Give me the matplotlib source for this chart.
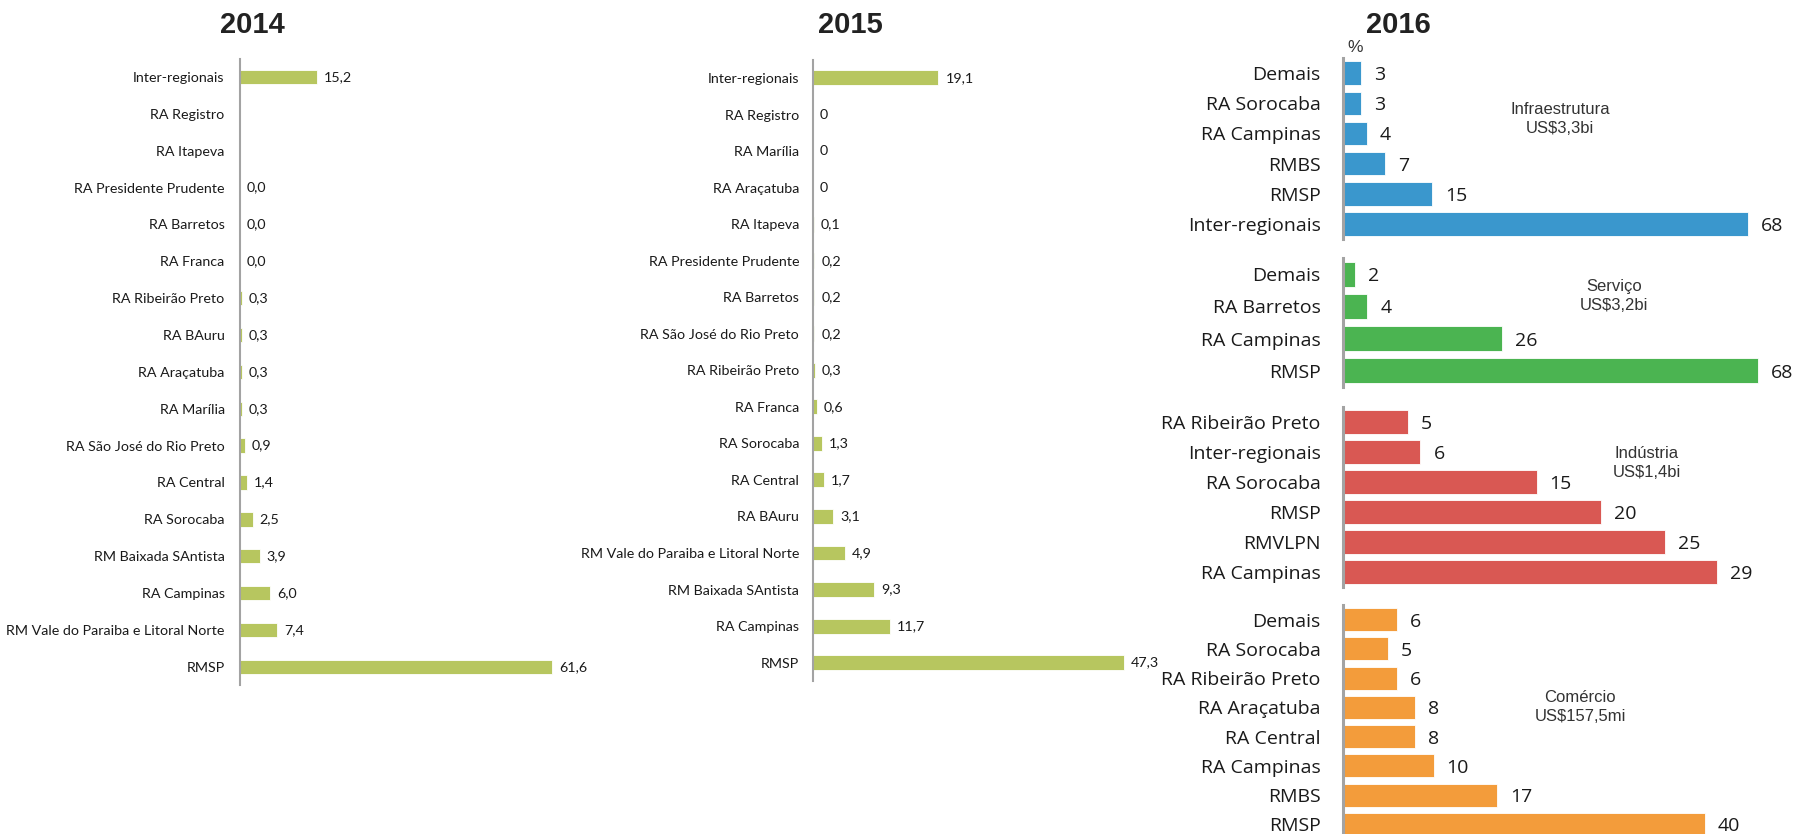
import matplotlib
matplotlib.use('Agg')
import matplotlib.pyplot as plt
import numpy as np

# ---- data ----
labels_2014 = ['Inter-regionais', 'RA Registro', 'RA Itapeva', 'RA Presidente Prudente',
               'RA Barretos', 'RA Franca', 'RA Ribeirão Preto', 'RA BAuru', 'RA Araçatuba',
               'RA Marília', 'RA São José do Rio Preto', 'RA Central', 'RA Sorocaba',
               'RM Baixada SAntista', 'RA Campinas', 'RM Vale do Paraiba e Litoral Norte', 'RMSP']
values_2014 = [15.2, np.nan, np.nan, 0.0, 0.0, 0.0, 0.3, 0.3, 0.3, 0.3, 0.9, 1.4, 2.5,
               3.9, 6.0, 7.4, 61.6]

labels_2015 = ['Inter-regionais', 'RA Registro', 'RA Marília', 'RA Araçatuba', 'RA Itapeva',
               'RA Presidente Prudente', 'RA Barretos', 'RA São José do Rio Preto',
               'RA Ribeirão Preto', 'RA Franca', 'RA Sorocaba', 'RA Central', 'RA BAuru',
               'RM Vale do Paraiba e Litoral Norte', 'RM Baixada SAntista', 'RA Campinas', 'RMSP']
values_2015 = [19.1, 0, 0, 0, 0.1, 0.2, 0.2, 0.2, 0.3, 0.6, 1.3, 1.7, 3.1, 4.9, 9.3, 11.7, 47.3]

infra_labels = ['Demais', 'RA Sorocaba', 'RA Campinas', 'RMBS', 'RMSP', 'Inter-regionais']
infra_values = [3, 3, 4, 7, 15, 68]
serv_labels = ['Demais', 'RA Barretos', 'RA Campinas', 'RMSP']
serv_values = [2, 4, 26, 68]
ind_labels = ['RA Ribeirão Preto', 'Inter-regionais', 'RA Sorocaba', 'RMSP', 'RMVLPN', 'RA Campinas']
ind_values = [5, 6, 15, 20, 25, 29]
com_labels = ['Demais', 'RA Sorocaba', 'RA Ribeirão Preto', 'RA Araçatuba', 'RA Central',
              'RA Campinas', 'RMBS', 'RMSP']
com_values = [6, 5, 6, 8, 8, 10, 17, 40]

sector_notes = ['Infraestrutura\nUS$3,3bi', 'Serviço\nUS$3,2bi', 'Indústria\nUS$1,4bi',
                'Comércio\nUS$157,5mi']

W, H = 1798, 834
fig = plt.figure(figsize=(W / 100, H / 100), dpi=100)

narrow = ['Lato', 'DejaVu Sans']
wide = ['Open Sans', 'DejaVu Sans']
arial = ['Liberation Sans', 'DejaVu Sans']


def add_ax(x0, y0, w, h):
    ax = fig.add_axes([x0 / W, 1 - (y0 + h) / H, w / W, h / H])
    ax.patch.set_alpha(0)
    for s in ['top', 'right', 'bottom']:
        ax.spines[s].set_visible(False)
    ax.set_xticks([])
    ax.tick_params(axis='y', length=0)
    return ax


def panel(x0, y0, w, h, px_per_unit, labels, values, color, bar_h, fmt,
          font, fsize, pad, spine_w, off, dy=0):
    ax = add_ax(x0, y0, w, h)
    n = len(labels)
    y = np.arange(n)
    vals = np.array(values, dtype=float)
    ax.barh(y, np.nan_to_num(vals), height=bar_h, color=color,
            edgecolor='white', linewidth=0.6)
    ax.set_xlim(0, w / px_per_unit)
    ax.set_ylim(n - 0.5, -0.5)
    ax.set_yticks(y)
    ax.set_yticklabels(labels, family=font, fontsize=fsize, color='#1a1a1a')
    ax.tick_params(axis='y', pad=pad)
    ax.spines['left'].set_color('#a3a3a3')
    ax.spines['left'].set_linewidth(spine_w)
    for yi, v in zip(y, vals):
        if np.isnan(v):
            continue
        ax.annotate(fmt(v), (v, yi), xytext=(off, -dy), textcoords='offset pixels',
                    va='center', ha='left', family=font, fontsize=fsize,
                    color='#1a1a1a', annotation_clip=False)
    return ax


fmt14 = lambda v: f'{v:.1f}'.replace('.', ',')
fmt15 = lambda v: f'{v:g}'.replace('.', ',')
fmt16 = lambda v: f'{v:g}'

panel(240, 58.6, 380, 626.6, 5.065, labels_2014, values_2014, '#b7c65f', 0.39,
      fmt14, narrow, 10.3, 11, 1.5, 7)
panel(813, 59.7, 380, 621.2, 6.57, labels_2015, values_2015, '#b7c65f', 0.41,
      fmt15, narrow, 10.3, 10, 1.5, 7)

groups = [
    (58, 181.2, 5.95, infra_labels, infra_values, '#3a97cd'),
    (258, 129, 6.1, serv_labels, serv_values, '#4bb451'),
    (407, 180, 12.9, ind_labels, ind_values, '#d95853'),
    (605, 234, 9.05, com_labels, com_values, '#f39c3b'),
]
for y0, h, ppu, labs, vals, col in groups:
    panel(1343, y0, 440, h, ppu, labs, vals, col, 0.78, fmt16, wide, 14, 16,
          2.2, 13, dy=2)

# sector annotations
note_pos = [(1560, 119), (1614, 296), (1647, 463), (1580, 707)]
for (x, y), txt in zip(note_pos, sector_notes):
    fig.text(x / W, 1 - y / H, txt, ha='center', va='center', family=arial,
             fontsize=12, color='#333333', linespacing=1.35)

fig.text(1355 / W, 1 - 48 / H, '%', ha='center', va='center', family=arial,
         fontsize=12.5, color='#333333')

for x, t in [(252, '2014'), (850, '2015'), (1398, '2016')]:
    fig.text(x / W, 1 - 25 / H, t, ha='center', va='center', family=arial,
             fontsize=21, fontweight='bold', color='#222222')

fig.savefig('out.png', dpi=100)
